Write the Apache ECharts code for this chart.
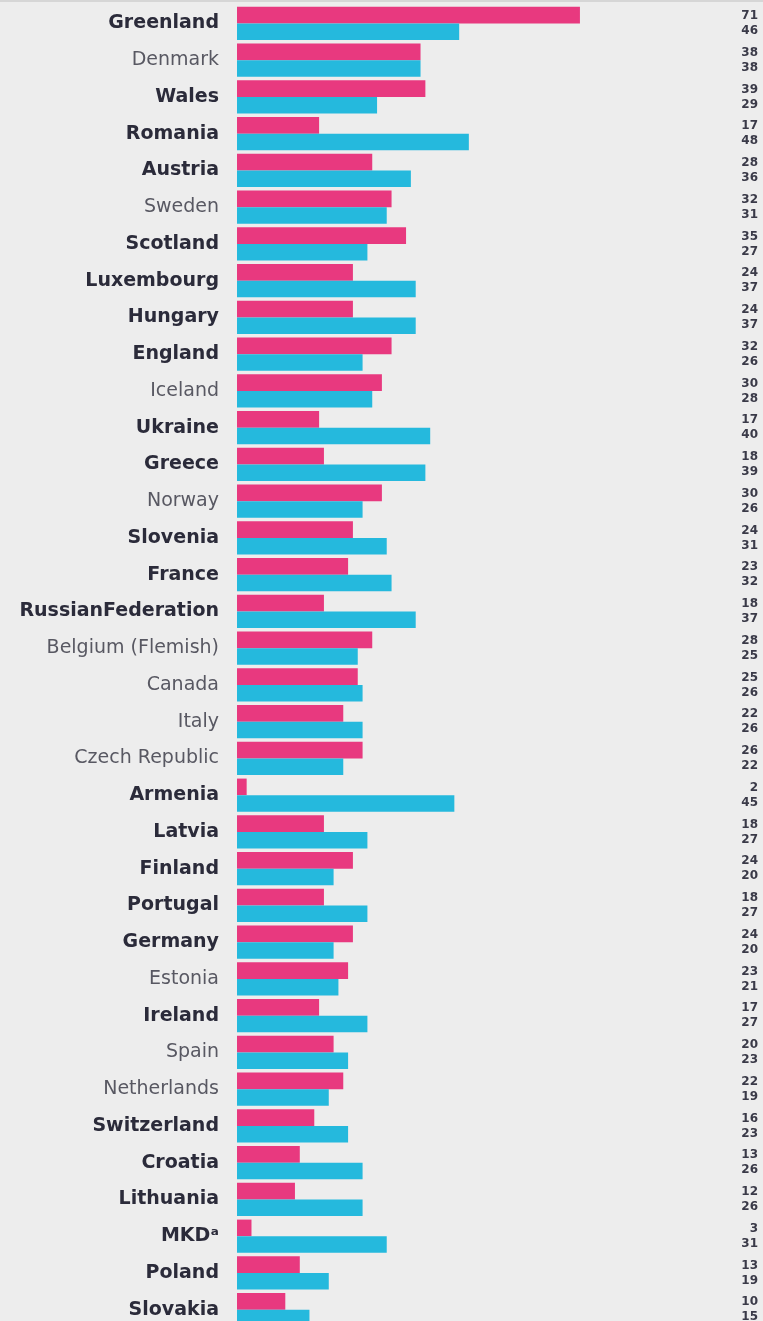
<!DOCTYPE html>
<html>
<head>
<meta charset="utf-8">
<script src="https://cdn.jsdelivr.net/npm/echarts@6/dist/echarts.min.js"></script>
<style>
  html, body { margin: 0; padding: 0; background: #ededed; }
  #chart { width: 763px; height: 1321px; }
</style>
</head>
<body>
<div id="chart"></div>
<script>
// countries top to bottom
const countries = ['Greenland', 'Denmark', 'Wales', 'Romania', 'Austria', 'Sweden', 'Scotland', 'Luxembourg',
  'Hungary', 'England', 'Iceland', 'Ukraine', 'Greece', 'Norway', 'Slovenia', 'France', 'RussianFederation',
  'Belgium (Flemish)', 'Canada', 'Italy', 'Czech Republic', 'Armenia', 'Latvia', 'Finland', 'Portugal',
  'Germany', 'Estonia', 'Ireland', 'Spain', 'Netherlands', 'Switzerland', 'Croatia', 'Lithuania', 'MKDᵃ',
  'Poland', 'Slovakia']
// which names are set in the light face
const lightNames = ['Denmark', 'Sweden', 'Iceland', 'Norway', 'Belgium (Flemish)', 'Canada', 'Italy',
  'Czech Republic', 'Estonia', 'Spain', 'Netherlands']
const pinkValues = [71, 38, 39, 17, 28, 32, 35, 24, 24, 32, 30, 17, 18, 30, 24, 23, 18, 28, 25, 22, 26, 2,
  18, 24, 18, 24, 23, 17, 20, 22, 16, 13, 12, 3, 13, 10]
const blueValues = [46, 38, 29, 48, 36, 31, 27, 37, 37, 26, 28, 40, 39, 26, 31, 32, 37, 25, 26, 26, 22, 45,
  27, 20, 27, 20, 21, 27, 23, 19, 23, 26, 26, 31, 19, 15]

const chart = echarts.init(document.getElementById('chart'))

const option = {
  backgroundColor: '#ededed',
  animation: false,
  grid: {
    left: 237,
    top: 5,
    width: 483,
    height: 1323,
    outerBoundsMode: 'none'
  },
  xAxis: {
    type: 'value',
    min: 0,
    max: 100,
    show: false
  },
  yAxis: [
    {
      type: 'category',
      data: countries,
      inverse: true,
      axisLine: { show: false },
      axisTick: { show: false },
      axisLabel: {
        margin: 18,
        formatter: function (v) {
          return lightNames.indexOf(v) >= 0 ? '{n|' + v + '}' : '{b|' + v + '}'
        },
        rich: {
          b: { fontFamily: 'DejaVu Sans', fontWeight: 'bold', fontSize: 19, color: '#2b2b3a' },
          n: { fontFamily: 'DejaVu Sans', fontWeight: 'normal', fontSize: 19, color: '#585862' }
        }
      }
    },
    {
      type: 'category',
      data: countries,
      inverse: true,
      position: 'right',
      axisLine: { show: false },
      axisTick: { show: false },
      axisLabel: {
        align: 'right',
        margin: 38,
        fontFamily: 'DejaVu Sans',
        fontWeight: 'bold',
        fontSize: 12,
        lineHeight: 15,
        color: '#3a3a48',
        formatter: function (v, i) {
          return pinkValues[i] + '\n' + blueValues[i]
        }
      }
    }
  ],
  series: [
    {
      type: 'bar',
      data: pinkValues,
      itemStyle: { color: '#e8397f' },
      barGap: '0%',
      barCategoryGap: '10%'
    },
    {
      type: 'bar',
      data: blueValues,
      itemStyle: { color: '#25b9dd' },
      barGap: '0%',
      barCategoryGap: '10%'
    }
  ],
  graphic: [
    {
      type: 'rect',
      shape: { x: 0, y: 0, width: 763, height: 2 },
      style: { fill: '#d6d6d6' }
    }
  ]
}

chart.setOption(option)
</script>
</body>
</html>
